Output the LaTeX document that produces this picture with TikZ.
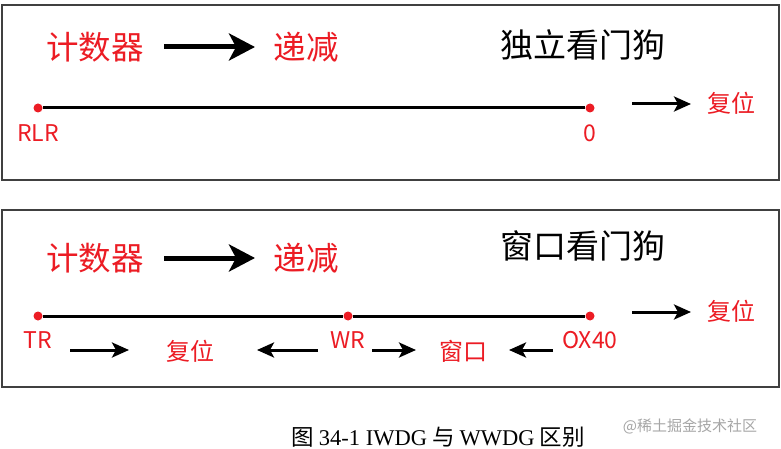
\documentclass[tikz,border=0pt]{standalone}
\usepackage{fontspec}
\setmainfont{Noto Sans CJK SC}
\newfontfamily\capfont{Liberation Serif}
\usetikzlibrary{arrows.meta}
\definecolor{myred}{RGB}{236,28,36}
\tikzset{
  x=1pt,y=-1pt,
  frame/.style={draw=black!75,line width=1.2pt},
  redtxt/.style={text=myred,inner sep=0pt,font=\fontsize{32.5}{34}\selectfont},
  blktxt/.style={text=black,inner sep=0pt,font=\fontsize{33}{35}\selectfont},
  lbl/.style={text=myred,inner sep=0pt,font=\fontsize{23}{25}\selectfont},
  small/.style={text=myred,inner sep=0pt,font=\fontsize{24}{26}\selectfont},
  bigarrow/.style={line width=5pt,-{Stealth[length=26pt,width=27pt,inset=7pt]}},
  midarrow/.style={line width=3pt,-{Stealth[length=17pt,width=15pt,inset=4pt]}},
  axis/.style={line width=3pt},
  dot/.style={circle,fill=myred,inner sep=0pt,minimum size=9pt},
}
\begin{document}
\begin{tikzpicture}
\useasboundingbox[fill=white] (0,0) rectangle (781,449);
% box 1
\draw[frame] (2,5) rectangle (779,180);
\node[redtxt] (c1) at (95,47) {计数器};
\node[redtxt] (d1) at (306,47) {递减};
\coordinate (a1s) at (164,47);
\coordinate (a1e) at (255,47);
\draw[bigarrow] (a1s) -- (a1e);
\node[blktxt] (t1) at (583,45) {独立看门狗};
\node[dot] (r1) at (38,108) {};
\node[dot] (z1) at (590,108) {};
\draw[axis] (r1) -- (z1);
\node[lbl] (rlr) at (38,133) {RLR};
\node[lbl] (zero) at (590,133) {0};
\node[small] (f1) at (731,103) {复位};
\coordinate (e1) at (632,104);
\coordinate (e1b) at (691,104);
\draw[midarrow] (e1) -- (e1b);
% box 2
\draw[frame] (2,210) rectangle (779,387);
\node[redtxt] (c2) at (95,258) {计数器};
\node[redtxt] (d2) at (306,258) {递减};
\coordinate (a2s) at (164,258);
\coordinate (a2e) at (255,258);
\draw[bigarrow] (a2s) -- (a2e);
\node[blktxt] (t2) at (583,246) {窗口看门狗};
\node[dot] (tr) at (38,316) {};
\node[dot] (wr) at (348,316) {};
\node[dot] (ox) at (590,316) {};
\draw[axis] (tr) -- (wr) -- (ox);
\node[lbl] (trl) at (38,340) {TR};
\node[lbl] (wrl) at (348,340) {WR};
\node[lbl] (oxl) at (590,340) {OX40};
\node[small] (f2) at (731,311) {复位};
\coordinate (e2) at (632,312);
\coordinate (e2b) at (691,312);
\draw[midarrow] (e2) -- (e2b);
\node[small] (f3) at (190,351) {复位};
\node[small] (w3) at (463,351) {窗口};
\coordinate (p1) at (70,350);
\coordinate (p2) at (129,350);
\coordinate (p3) at (318,350);
\coordinate (p4) at (257,350);
\coordinate (p5) at (372,350);
\coordinate (p6) at (416,350);
\coordinate (p7) at (553,350);
\coordinate (p8) at (509,350);
\draw[midarrow] (p1) -- (p2);
\draw[midarrow] (p3) -- (p4);
\draw[midarrow] (p5) -- (p6);
\draw[midarrow] (p7) -- (p8);
% caption
\node[inner sep=0pt,font=\fontsize{22.5}{24}\selectfont] (cap) at (438,437) {图 {\capfont 34-1 IWDG} 与 {\capfont WWDG} 区别};
\node[inner sep=0pt,text=black!35,font=\fontsize{15}{17}\selectfont] (wm) at (690,426) {@稀土掘金技术社区};
\end{tikzpicture}
\end{document}
